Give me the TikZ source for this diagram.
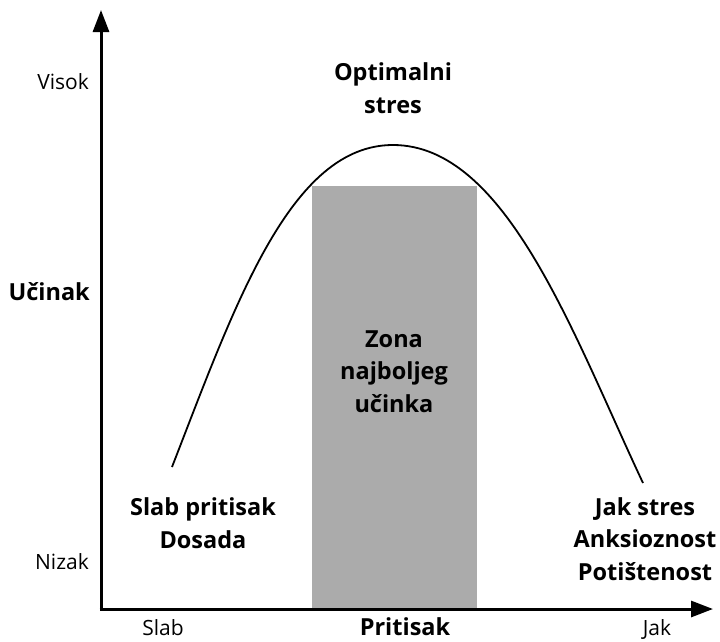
\documentclass[tikz,border=0pt]{standalone}
\usepackage{fontspec}
\setmainfont{Open Sans}
\usetikzlibrary{arrows.meta}
\definecolor{zonegray}{HTML}{ABABAB}
\tikzset{
  axis/.style={line width=3pt, -{Triangle[length=22pt,width=16pt]}},
  curveline/.style={line width=1.8pt},
  lbl/.style={font=\fontsize{21}{32}\selectfont, inner sep=0pt},
  blbl/.style={font=\fontsize{23.5}{32.5}\selectfont\bfseries, align=center, inner sep=0pt},
}
\begin{document}
\begin{tikzpicture}[x=1pt,y=-1pt]
\useasboundingbox (0,0) rectangle (720,641);
\coordinate (O) at (101,609);
\coordinate (ytip) at (101,10);
\coordinate (xtip) at (713,609);
\coordinate (cl) at (172,467);
\coordinate (peak) at (393,145);
\coordinate (cr) at (643,483);
\fill[zonegray] (312,186) rectangle (477,609);
\draw[curveline] (cl) .. controls (235,305) and (290,145) .. (peak)
                      .. controls (506,145) and (572.5,333) .. (cr);
\draw[axis] (O) -- (ytip);
\draw[axis] ([xshift=-1.5pt]O) -- (xtip);
\node[lbl, anchor=base east] (visok) at (89,89) {Visok};
\node[lbl, anchor=base east] (nizak) at (89,569) {Nizak};
\node[blbl, anchor=base east] (ucinak) at (90,300) {Učinak};
\node[lbl, anchor=base] (slab) at (163,635) {Slab};
\node[blbl, anchor=base] (pritisak) at (405,635) {Pritisak};
\node[lbl, anchor=base] (jak) at (657,635) {Jak};
\node[blbl, anchor=base] (opt) at (393,113) {Optimalni\\stres};
\node[blbl, anchor=base] (zona) at (394,412) {Zona\\najboljeg\\učinka};
\node[blbl, anchor=base] (dosada) at (203,548) {Slab pritisak\\Dosada};
\node[blbl, anchor=base] (jakstres) at (645,580) {Jak stres\\Anksioznost\\Potištenost};
\end{tikzpicture}
\end{document}
